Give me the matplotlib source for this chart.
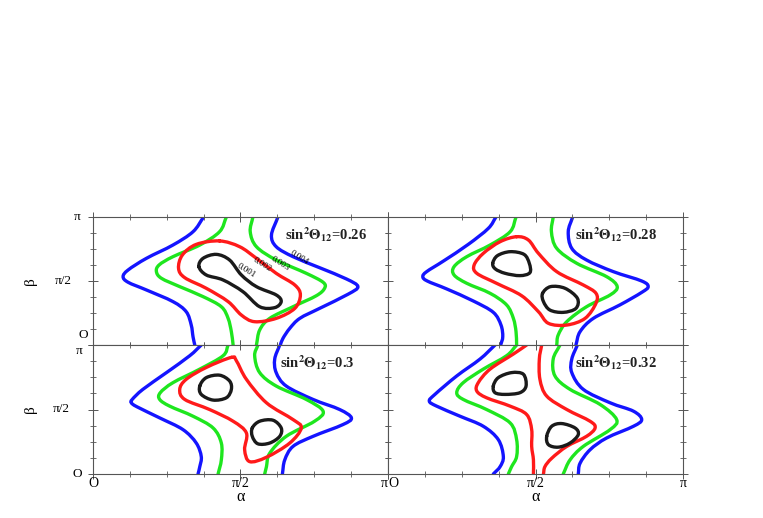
import matplotlib
matplotlib.use("Agg")
import matplotlib.pyplot as plt
from matplotlib.path import Path
from matplotlib.patches import PathPatch
import numpy as np

plt.rcParams['font.family'] = ['Liberation Serif', 'DejaVu Serif']
plt.rcParams['mathtext.fontset'] = 'stix'

# sin^2(theta12) for each panel and the contour levels
s12_values = ['0.26', '0.28', '0.3', '0.32']
levels = ['0.001', '0.002', '0.003', '0.004']

# traced contour points, (alpha/pi, beta/pi)
# --- sin^2 = 0.26 ---
p1_blue_l = [(0.375, 1.0), (0.339, 0.885), (0.271, 0.781), (0.181, 0.677), (0.119, 0.586),
             (0.102, 0.534), (0.119, 0.490), (0.181, 0.430), (0.271, 0.339), (0.316, 0.260),
             (0.333, 0.156), (0.339, 0.065), (0.345, 0.0)]
p1_blue_r = [(0.627, 1.0), (0.605, 0.859), (0.621, 0.768), (0.678, 0.690), (0.768, 0.604),
             (0.859, 0.516), (0.898, 0.456), (0.864, 0.396), (0.768, 0.286), (0.701, 0.208),
             (0.667, 0.130), (0.644, 0.052), (0.635, 0.0)]
p1_green_l = [(0.452, 1.0), (0.429, 0.885), (0.362, 0.781), (0.271, 0.690), (0.224, 0.625),
              (0.215, 0.573), (0.232, 0.521), (0.294, 0.456), (0.373, 0.378), (0.435, 0.299),
              (0.458, 0.208), (0.469, 0.104), (0.475, 0.0)]
p1_green_r = [(0.542, 1.0), (0.533, 0.885), (0.554, 0.768), (0.621, 0.664), (0.723, 0.560),
              (0.780, 0.490), (0.785, 0.443), (0.757, 0.385), (0.678, 0.299), (0.599, 0.208),
              (0.565, 0.117), (0.554, 0.0)]
p1_red = [(0.429, 0.813), (0.497, 0.768), (0.554, 0.677), (0.621, 0.560), (0.684, 0.469),
          (0.703, 0.391), (0.684, 0.286), (0.621, 0.208), (0.548, 0.182), (0.503, 0.234),
          (0.458, 0.339), (0.384, 0.443), (0.311, 0.526), (0.290, 0.599), (0.303, 0.703),
          (0.350, 0.786), (0.429, 0.813)]
p1_black = [(0.359, 0.612), (0.373, 0.677), (0.418, 0.708), (0.463, 0.664), (0.503, 0.547),
            (0.554, 0.456), (0.621, 0.391), (0.638, 0.339), (0.616, 0.292), (0.565, 0.299),
            (0.508, 0.417), (0.441, 0.508), (0.384, 0.547), (0.359, 0.612)]

# --- sin^2 = 0.28 ---
p2_blue_l = [(0.366, 1.0), (0.340, 0.911), (0.272, 0.786), (0.188, 0.656), (0.131, 0.573),
             (0.118, 0.534), (0.133, 0.500), (0.199, 0.438), (0.289, 0.344), (0.357, 0.255),
             (0.383, 0.156), (0.389, 0.065), (0.382, 0.0)]
p2_blue_r = [(0.626, 1.0), (0.611, 0.885), (0.623, 0.755), (0.673, 0.664), (0.764, 0.573),
             (0.860, 0.500), (0.882, 0.456), (0.860, 0.411), (0.786, 0.313), (0.696, 0.208),
             (0.651, 0.104), (0.637, 0.0)]
p2_green_l = [(0.434, 1.0), (0.414, 0.885), (0.346, 0.781), (0.267, 0.690), (0.224, 0.612),
              (0.224, 0.547), (0.267, 0.482), (0.346, 0.404), (0.402, 0.313), (0.425, 0.208),
              (0.434, 0.104), (0.436, 0.0)]
p2_green_r = [(0.560, 1.0), (0.554, 0.885), (0.572, 0.755), (0.640, 0.638), (0.741, 0.534),
              (0.777, 0.456), (0.753, 0.391), (0.673, 0.299), (0.606, 0.182), (0.577, 0.078),
              (0.572, 0.0)]
p2_red = [(0.436, 0.846), (0.476, 0.820), (0.510, 0.716), (0.572, 0.573), (0.662, 0.469),
          (0.705, 0.404), (0.705, 0.326), (0.668, 0.208), (0.606, 0.156), (0.544, 0.169),
          (0.510, 0.260), (0.453, 0.385), (0.368, 0.482), (0.301, 0.560), (0.292, 0.625),
          (0.323, 0.716), (0.380, 0.807), (0.436, 0.846)]
p2_black_u = [(0.355, 0.638), (0.371, 0.698), (0.414, 0.729), (0.461, 0.708), (0.479, 0.638),
              (0.481, 0.565), (0.447, 0.542), (0.397, 0.560), (0.364, 0.594), (0.355, 0.638)]
p2_black_d = [(0.524, 0.404), (0.551, 0.456), (0.600, 0.443), (0.642, 0.365), (0.637, 0.286),
              (0.594, 0.255), (0.549, 0.273), (0.527, 0.339), (0.524, 0.404)]

# --- sin^2 = 0.3 ---
p3_blue_l = [(0.367, 1.0), (0.328, 0.917), (0.249, 0.786), (0.169, 0.656), (0.133, 0.578),
             (0.130, 0.552), (0.149, 0.521), (0.226, 0.435), (0.305, 0.344), (0.350, 0.240),
             (0.367, 0.135), (0.362, 0.057), (0.356, 0.0)]
p3_blue_r = [(0.633, 1.0), (0.616, 0.891), (0.621, 0.786), (0.655, 0.682), (0.746, 0.578),
             (0.836, 0.500), (0.876, 0.435), (0.847, 0.383), (0.746, 0.292), (0.678, 0.214),
             (0.650, 0.109), (0.642, 0.0)]
p3_green_l = [(0.458, 1.0), (0.441, 0.917), (0.362, 0.813), (0.271, 0.708), (0.228, 0.630),
              (0.226, 0.578), (0.260, 0.526), (0.339, 0.448), (0.407, 0.357), (0.435, 0.240),
              (0.435, 0.109), (0.424, 0.0)]
p3_green_r = [(0.559, 1.0), (0.548, 0.917), (0.565, 0.786), (0.621, 0.682), (0.723, 0.578),
              (0.780, 0.487), (0.751, 0.409), (0.655, 0.292), (0.599, 0.161), (0.588, 0.057),
              (0.582, 0.0)]
p3_red = [(0.469, 0.904), (0.384, 0.826), (0.316, 0.734), (0.294, 0.656), (0.311, 0.578),
          (0.395, 0.500), (0.475, 0.409), (0.520, 0.318), (0.514, 0.188), (0.531, 0.096),
          (0.588, 0.130), (0.667, 0.240), (0.706, 0.357), (0.678, 0.422), (0.588, 0.552),
          (0.520, 0.734), (0.486, 0.878), (0.469, 0.904)]
p3_black_u = [(0.362, 0.682), (0.384, 0.747), (0.429, 0.766), (0.463, 0.721), (0.469, 0.656),
              (0.452, 0.591), (0.407, 0.573), (0.367, 0.617), (0.362, 0.682)]
p3_black_d = [(0.540, 0.357), (0.565, 0.409), (0.610, 0.417), (0.638, 0.357), (0.633, 0.292),
              (0.599, 0.240), (0.559, 0.234), (0.540, 0.292), (0.540, 0.357)]

# --- sin^2 = 0.32 ---
p4_blue_l = [(0.363, 1.0), (0.312, 0.891), (0.233, 0.760), (0.159, 0.617), (0.140, 0.565),
             (0.165, 0.526), (0.244, 0.448), (0.323, 0.370), (0.374, 0.266), (0.391, 0.135),
             (0.380, 0.057), (0.357, 0.0)]
p4_blue_r = [(0.642, 1.0), (0.623, 0.891), (0.623, 0.786), (0.662, 0.656), (0.753, 0.552),
             (0.832, 0.487), (0.860, 0.422), (0.832, 0.370), (0.741, 0.279), (0.685, 0.188),
             (0.651, 0.083), (0.645, 0.0)]
p4_green_l = [(0.436, 1.0), (0.402, 0.917), (0.323, 0.813), (0.255, 0.708), (0.233, 0.630),
              (0.255, 0.578), (0.334, 0.500), (0.414, 0.396), (0.436, 0.266), (0.436, 0.135),
              (0.419, 0.057), (0.408, 0.0)]
p4_green_r = [(0.583, 1.0), (0.560, 0.891), (0.566, 0.760), (0.617, 0.656), (0.719, 0.539),
              (0.775, 0.422), (0.753, 0.344), (0.662, 0.214), (0.617, 0.109), (0.594, 0.0)]
p4_red_l = [(0.470, 1.0), (0.425, 0.930), (0.346, 0.813), (0.306, 0.708), (0.301, 0.643),
            (0.334, 0.591), (0.414, 0.526), (0.470, 0.461), (0.487, 0.344), (0.487, 0.214),
            (0.493, 0.109), (0.493, 0.0)]
p4_red_r = [(0.521, 1.0), (0.513, 0.891), (0.515, 0.734), (0.538, 0.604), (0.606, 0.500),
            (0.685, 0.409), (0.702, 0.357), (0.673, 0.292), (0.606, 0.214), (0.555, 0.122),
            (0.532, 0.057), (0.527, 0.0)]
p4_black_u = [(0.357, 0.682), (0.374, 0.747), (0.419, 0.786), (0.459, 0.773), (0.468, 0.682),
              (0.447, 0.630), (0.397, 0.617), (0.363, 0.630), (0.357, 0.682)]
p4_black_d = [(0.538, 0.292), (0.555, 0.370), (0.589, 0.391), (0.634, 0.357), (0.645, 0.305),
              (0.617, 0.240), (0.577, 0.208), (0.544, 0.227), (0.538, 0.292)]

# contour label positions on the first panel (alpha/pi, beta/pi)
label_pos = [(0.521, 0.578), (0.575, 0.630), (0.634, 0.633), (0.700, 0.680)]

col = {'blue': '#1414ff', 'green': '#1ee61e', 'red': '#ff1a1a', 'black': '#1a1a1a'}

panels = [
    [(p1_blue_l, 'blue'), (p1_blue_r, 'blue'), (p1_green_l, 'green'), (p1_green_r, 'green'),
     (p1_red, 'red'), (p1_black, 'black')],
    [(p2_blue_l, 'blue'), (p2_blue_r, 'blue'), (p2_green_l, 'green'), (p2_green_r, 'green'),
     (p2_red, 'red'), (p2_black_u, 'black'), (p2_black_d, 'black')],
    [(p3_blue_l, 'blue'), (p3_blue_r, 'blue'), (p3_green_l, 'green'), (p3_green_r, 'green'),
     (p3_red, 'red'), (p3_black_u, 'black'), (p3_black_d, 'black')],
    [(p4_blue_l, 'blue'), (p4_blue_r, 'blue'), (p4_green_l, 'green'), (p4_green_r, 'green'),
     (p4_red_l, 'red'), (p4_red_r, 'red'), (p4_black_u, 'black'), (p4_black_d, 'black')],
]


def smooth_path(pts):
    # cubic Bezier path through the traced points (Catmull-Rom tangents)
    p = np.array(pts, dtype=float)
    closed = np.allclose(p[0], p[-1])
    if closed:
        q = p[:-1]
        n = len(q)
        tang = [(q[(k + 1) % n] - q[k - 1]) / 2 for k in range(n)]
        tang.append(tang[0])
    else:
        n = len(p)
        tang = []
        for k in range(n):
            if k == 0:
                tang.append(p[1] - p[0])
            elif k == n - 1:
                tang.append(p[-1] - p[-2])
            else:
                tang.append((p[k + 1] - p[k - 1]) / 2)
    verts = [p[0]]
    codes = [Path.MOVETO]
    for k in range(len(p) - 1):
        verts += [p[k] + tang[k] / 3, p[k + 1] - tang[k + 1] / 3, p[k + 1]]
        codes += [Path.CURVE4] * 3
    return Path(verts, codes)


W, H = 763, 518
fig = plt.figure(figsize=(W / 100, H / 100), dpi=100)

# axes boxes in pixels: left, top, right, bottom
boxes = [(93, 217, 388, 345), (388, 217, 683, 345),
         (93, 345, 388, 474), (388, 345, 683, 474)]
text_x = [0.650, 0.634, 0.634, 0.634]
# y tick label placement (axes coords) for the top-left and bottom-left panels
ylab_top = [('π', -0.044, 1.0), ('π/2', -0.071, 0.5), ('O', -0.017, 0.075)]
ylab_bot = [('π', -0.037, 0.95), ('π/2', -0.078, 0.5), ('O', -0.037, 0.0)]

for i, (box, curves) in enumerate(zip(boxes, panels)):
    l, t, r, b = box
    ax = fig.add_axes([l / W, (H - b) / H, (r - l) / W, (b - t) / H])
    for pts, c in curves:
        ax.add_patch(PathPatch(smooth_path(pts), fill=False, edgecolor=col[c], lw=2.4,
                               joinstyle='round', capstyle='round'))
    ax.set_xlim(0, 1)
    ax.set_ylim(0, 1)
    ax.set_xticks([0, 0.5, 1])
    ax.set_yticks([0, 0.5, 1])
    ax.set_xticks(np.arange(0, 1.01, 0.125), minor=True)
    ax.set_yticks(np.arange(0, 1.01, 0.125), minor=True)
    ax.tick_params(which='both', direction='inout', top=True, right=True, color='#555555',
                   labelsize=10, pad=-1)
    ax.tick_params(which='major', length=7, width=0.7)
    ax.tick_params(which='minor', length=5, width=0.6)
    ax.set_yticklabels([])
    for s in ax.spines.values():
        s.set_color('#555555')
        s.set_linewidth(0.8)

    if i % 2 == 0:
        for txt, x, y in (ylab_top if i == 0 else ylab_bot):
            ax.text(x, y, txt, transform=ax.transAxes, fontsize=9.5, ha='right', va='center')
        fig.text(30 / W, 1 - ((t + b) / 2) / H, 'β', rotation=90, fontsize=11,
                 ha='center', va='center')

    if i >= 2:
        ax.set_xticklabels(['O', 'π/2', 'π'])
        if i == 2:
            ax.get_xticklabels()[2].set_ha('right')
        else:
            ax.get_xticklabels()[0].set_ha('left')
        fig.text(((l + r) / 2) / W, 1 - 497 / H, 'α', fontsize=11.5, ha='center', va='center')
    else:
        ax.set_xticklabels([])

    ax.text(text_x[i], 0.865, 'sin$^{\\mathbf{2}}\\mathbf{\\Theta}_{\\mathbf{12}}$=' + s12_values[i],
            transform=ax.transAxes, fontsize=10.5, fontweight='bold', ha='left', va='center',
            color='#222222')

    if i == 0:
        for (x, y), lv in zip(label_pos, levels):
            ax.text(x, y, lv, fontsize=6.5, rotation=-32, ha='center', va='center')

fig.savefig('out.png', dpi=100)
